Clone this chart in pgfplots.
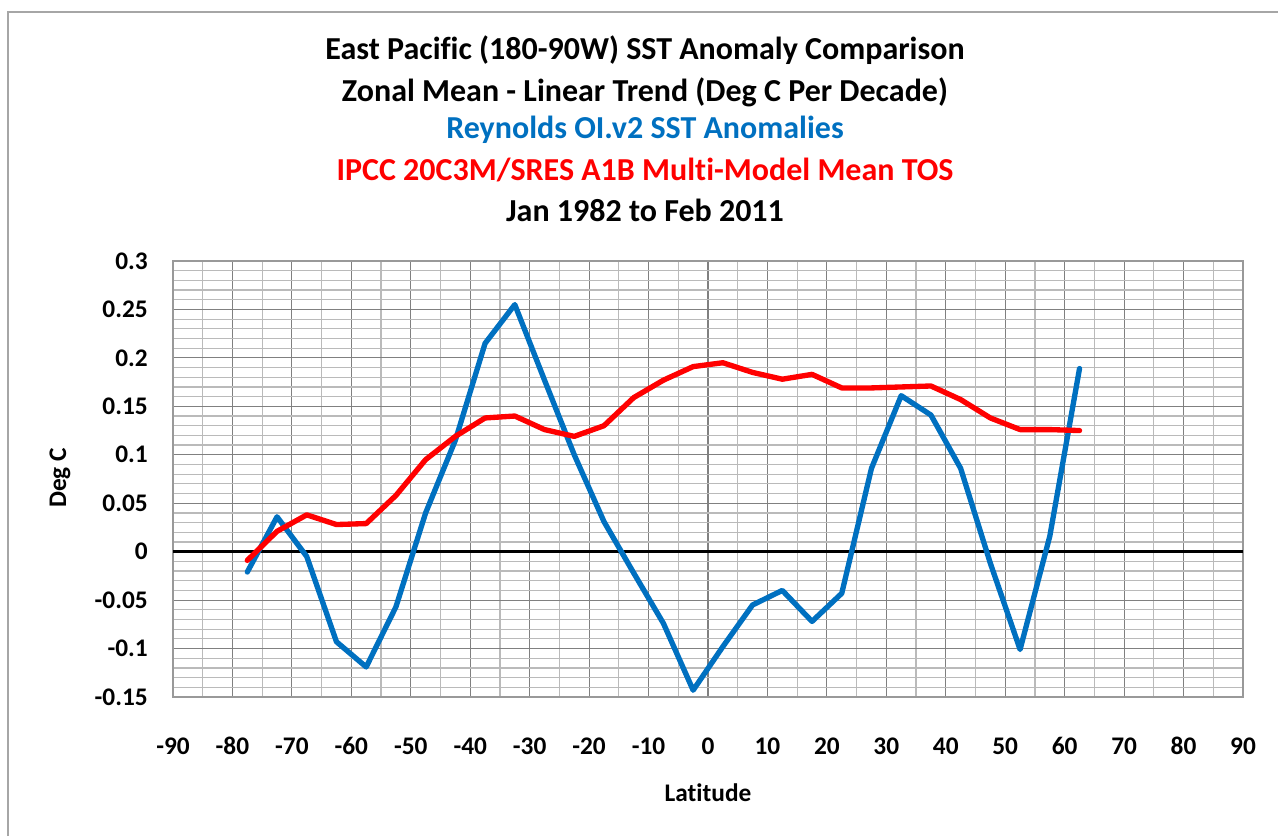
\documentclass[border=0pt]{standalone}
\usepackage{fontspec}
\setmainfont{Carlito}[Ligatures=NoCommon]
\usepackage{pgfplots}
\pgfplotsset{compat=1.18}
\definecolor{xlblue}{HTML}{0070C0}
\definecolor{xlred}{HTML}{FF0000}
\definecolor{bordergray}{HTML}{A6A6A6}
\begin{document}
\begin{tikzpicture}[x=1pt,y=1pt]
\path[use as bounding box] (0,0) rectangle (958.5,627);
\draw[bordergray, line width=1.5pt] (6,0) -- (6,618) -- (958.5,618);
\begin{axis}[
  at={(129.75pt,104.25pt)}, anchor=south west,
  width=802.5pt, height=327pt, scale only axis,
  xmin=-90, xmax=90, ymin=-0.15, ymax=0.3,
  xtick={-90,-80,...,90},
  xticklabels={-90,-80,-70,-60,-50,-40,-30,-20,-10,0,10,20,30,40,50,60,70,80,90},
  ytick={-0.15,-0.1,-0.05,0,0.05,0.1,0.15,0.2,0.25,0.3},
  yticklabels={-0.15,-0.1,-0.05,0,0.05,0.1,0.15,0.2,0.25,0.3},
  minor x tick num=1, minor y tick num=4,
  grid=both,
  major grid style={draw=black!50, line width=0.9pt},
  minor grid style={draw=black!27, line width=0.9pt},
  tick style={draw=none},
  axis line style={draw=black!40, line width=0.9pt},
  xticklabel style={font=\bfseries\fontsize{19}{22}\selectfont, anchor=center, yshift=-36.75pt},
  yticklabel style={font=\bfseries\fontsize{19}{22}\selectfont, anchor=east, inner sep=0pt, xshift=-18.75pt},
  clip=false,
]
\addplot[black, line width=2.25pt, forget plot] coordinates {(-90,0) (90,0)};
\addplot[xlblue, line width=4pt, line join=round, line cap=round] coordinates {
(-77.5,-0.021) (-72.5,0.036) (-67.5,-0.005) (-62.5,-0.093) (-57.5,-0.119)
(-52.5,-0.057) (-47.5,0.040) (-42.5,0.115) (-37.5,0.215) (-32.5,0.255)
(-27.5,0.177) (-22.5,0.100) (-17.5,0.031) (-12.5,-0.022) (-7.5,-0.074)
(-2.5,-0.143) (2.5,-0.098) (7.5,-0.055) (12.5,-0.040) (17.5,-0.072)
(22.5,-0.043) (27.5,0.086) (32.5,0.161) (37.5,0.141) (42.5,0.086)
(47.5,-0.012) (52.5,-0.101) (57.5,0.016) (62.5,0.189)
};
\addplot[xlred, line width=4pt, line join=round, line cap=round] coordinates {
(-77.5,-0.009) (-72.5,0.021) (-67.5,0.038) (-62.5,0.028) (-57.5,0.029)
(-52.5,0.058) (-47.5,0.095) (-42.5,0.119) (-37.5,0.138) (-32.5,0.140)
(-27.5,0.126) (-22.5,0.119) (-17.5,0.130) (-12.5,0.159) (-7.5,0.177)
(-2.5,0.191) (2.5,0.195) (7.5,0.185) (12.5,0.178) (17.5,0.183)
(22.5,0.169) (27.5,0.169) (32.5,0.170) (37.5,0.171) (42.5,0.157)
(47.5,0.138) (52.5,0.126) (57.5,0.126) (62.5,0.125)
};
\end{axis}
\begin{scope}[every node/.style={font=\bfseries\fontsize{24}{28}\selectfont, inner sep=0pt}]
\node at (483.75,589.5) {East Pacific (180-90W) SST Anomaly Comparison};
\node at (483.75,558) {Zonal Mean - Linear Trend (Deg C Per Decade)};
\node[text=xlblue] at (483.75,529.5) {Reynolds OI.v2 SST Anomalies};
\node[text=xlred] at (483.75,499.5) {IPCC 20C3M/SRES A1B Multi-Model Mean TOS};
\node at (483.75,469.5) {Jan 1982 to Feb 2011};
\end{scope}
\node[font=\bfseries\fontsize{19}{22}\selectfont, inner sep=0pt] at (531,32.25) {Latitude};
\node[font=\bfseries\fontsize{19}{22}\selectfont, inner sep=0pt, rotate=90] at (45,268.5) {Deg C};
\end{tikzpicture}
\end{document}
